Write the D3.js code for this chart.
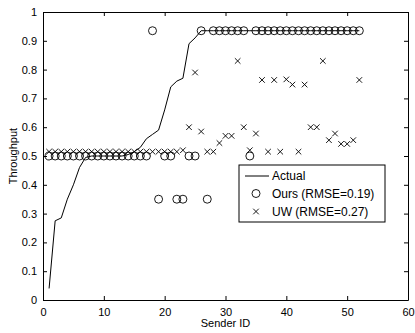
<!DOCTYPE html>
<html lang="en">
<head>
    <meta charset="UTF-8">
    <title>Throughput per sender</title>
    <script src="https://d3js.org/d3.v7.min.js"></script>
    <style>
        body { margin: 0; background: #fff; }
        text { font-family: "Liberation Sans", Arial, Helvetica, sans-serif; font-size: 11px; fill: #000; }
        .domain, .tick line { stroke: #000; }
    </style>
</head>
<body>
    <div id="chart"></div>
    <script>
        // sender ids 1..52
        var senderIds = d3.range(1, 53);

        var actual = [0.04, 0.275, 0.285, 0.35, 0.40, 0.46, 0.495, 0.5, 0.5, 0.5,
                      0.5, 0.5, 0.5, 0.505, 0.515, 0.53, 0.56, 0.575, 0.59, 0.66,
                      0.74, 0.76, 0.77, 0.89, 0.91, 0.935, 0.935, 0.935, 0.935, 0.935,
                      0.935, 0.935, 0.935, 0.935, 0.935, 0.935, 0.935, 0.935, 0.935, 0.935,
                      0.935, 0.935, 0.935, 0.935, 0.935, 0.935, 0.935, 0.935, 0.935, 0.935,
                      0.935, 0.935];

        var ours = [0.5, 0.5, 0.5, 0.5, 0.5, 0.5, 0.5, 0.5, 0.5, 0.5,
                    0.5, 0.5, 0.5, 0.5, 0.5, 0.5, 0.5, 0.935, 0.35, 0.5,
                    0.5, 0.35, 0.35, 0.5, 0.5, 0.935, 0.35, 0.935, 0.935, 0.935,
                    0.935, 0.935, 0.935, 0.5, 0.935, 0.935, 0.935, 0.935, 0.935, 0.935,
                    0.935, 0.935, 0.935, 0.935, 0.935, 0.935, 0.935, 0.935, 0.935, 0.935,
                    0.935, 0.935];

        var uw = [0.515, 0.515, 0.515, 0.515, 0.515, 0.515, 0.515, 0.515, 0.515, 0.515,
                  0.515, 0.515, 0.515, 0.515, 0.515, 0.515, 0.515, 0.515, 0.515, 0.515,
                  0.515, 0.515, 0.52, 0.60, 0.79, 0.585, 0.515, 0.515, 0.545, 0.57,
                  0.57, 0.83, 0.60, 0.52, 0.578, 0.764, 0.515, 0.764, 0.515, 0.766,
                  0.748, 0.515, 0.748, 0.60, 0.60, 0.83, 0.555, 0.578, 0.542, 0.542,
                  0.555, 0.764];

        var xTicks = [0, 10, 20, 30, 40, 50, 60];
        var yTicks = [0, 0.1, 0.2, 0.3, 0.4, 0.5, 0.6, 0.7, 0.8, 0.9, 1];
        var legendLabels = ["Actual", "Ours (RMSE=0.19)", "UW (RMSE=0.27)"];

        var width = 415, height = 333;
        var margin = { top: 12, right: 7, bottom: 33, left: 43 };
        var w = width - margin.left - margin.right;
        var h = height - margin.top - margin.bottom;

        var svg = d3.select("#chart").append("svg")
            .attr("width", width)
            .attr("height", height);

        var g = svg.append("g")
            .attr("transform", `translate(${margin.left},${margin.top})`);

        var x = d3.scaleLinear().domain([0, 60]).range([0, w]);
        var y = d3.scaleLinear().domain([0, 1]).range([h, 0]);

        // axes with inward ticks, box on all sides
        g.append("g")
            .attr("transform", `translate(0,${h})`)
            .call(d3.axisBottom(x).tickValues(xTicks).tickSize(-4).tickPadding(8).tickSizeOuter(0))
            .call(a => a.selectAll("text").attr("dy", "0.71em"));
        g.append("g")
            .call(d3.axisTop(x).tickValues(xTicks).tickSize(-4).tickFormat("").tickSizeOuter(0));
        g.append("g")
            .call(d3.axisLeft(y).tickValues(yTicks).tickSize(-4).tickPadding(6).tickSizeOuter(0)
                .tickFormat(d3.format("")));
        g.append("g")
            .attr("transform", `translate(${w},0)`)
            .call(d3.axisRight(y).tickValues(yTicks).tickSize(-4).tickFormat("").tickSizeOuter(0));
        g.selectAll(".tick text").style("font-size", "11px");

        // actual line
        var line = d3.line()
            .x((d, i) => x(senderIds[i]))
            .y(d => y(d));
        g.append("path")
            .datum(actual)
            .attr("fill", "none")
            .attr("stroke", "#000")
            .attr("stroke-width", 1)
            .attr("d", line);

        // ours: circles
        g.selectAll(".ours")
            .data(ours)
            .enter().append("circle")
            .attr("class", "ours")
            .attr("cx", (d, i) => x(senderIds[i]))
            .attr("cy", d => y(d))
            .attr("r", 4)
            .attr("fill", "none")
            .attr("stroke", "#000")
            .attr("stroke-width", 0.9);

        // uw: crosses
        var cross = d3.symbol().type(d3.symbolX).size(22);
        g.selectAll(".uw")
            .data(uw)
            .enter().append("path")
            .attr("class", "uw")
            .attr("transform", (d, i) => `translate(${x(senderIds[i])},${y(d)})`)
            .attr("d", cross)
            .attr("fill", "none")
            .attr("stroke", "#000")
            .attr("stroke-width", 0.9);

        // legend
        var lg = svg.append("g").attr("transform", "translate(239,165)");
        lg.append("rect")
            .attr("width", 146).attr("height", 57)
            .attr("fill", "#fff").attr("stroke", "#000");
        lg.append("line")
            .attr("x1", 6).attr("x2", 30).attr("y1", 11).attr("y2", 11)
            .attr("stroke", "#000");
        lg.append("circle")
            .attr("cx", 17).attr("cy", 28.5).attr("r", 4)
            .attr("fill", "none").attr("stroke", "#000").attr("stroke-width", 0.9);
        lg.append("path")
            .attr("transform", "translate(17,46.5)")
            .attr("d", cross)
            .attr("fill", "none").attr("stroke", "#000").attr("stroke-width", 0.9);
        lg.selectAll(".lt")
            .data(legendLabels)
            .enter().append("text")
            .attr("x", 33)
            .attr("y", (d, i) => 11 + i * 17.8)
            .attr("dy", "0.35em")
            .style("font-size", "12px")
            .text(d => d);

        // axis titles
        svg.append("text")
            .attr("x", margin.left + x(30))
            .attr("y", 327)
            .attr("text-anchor", "middle")
            .text("Sender ID");
        svg.append("text")
            .attr("transform", "translate(13,156) rotate(-90)")
            .attr("text-anchor", "middle")
            .attr("dy", "0.35em")
            .text("Throughput");
    </script>
</body>
</html>
